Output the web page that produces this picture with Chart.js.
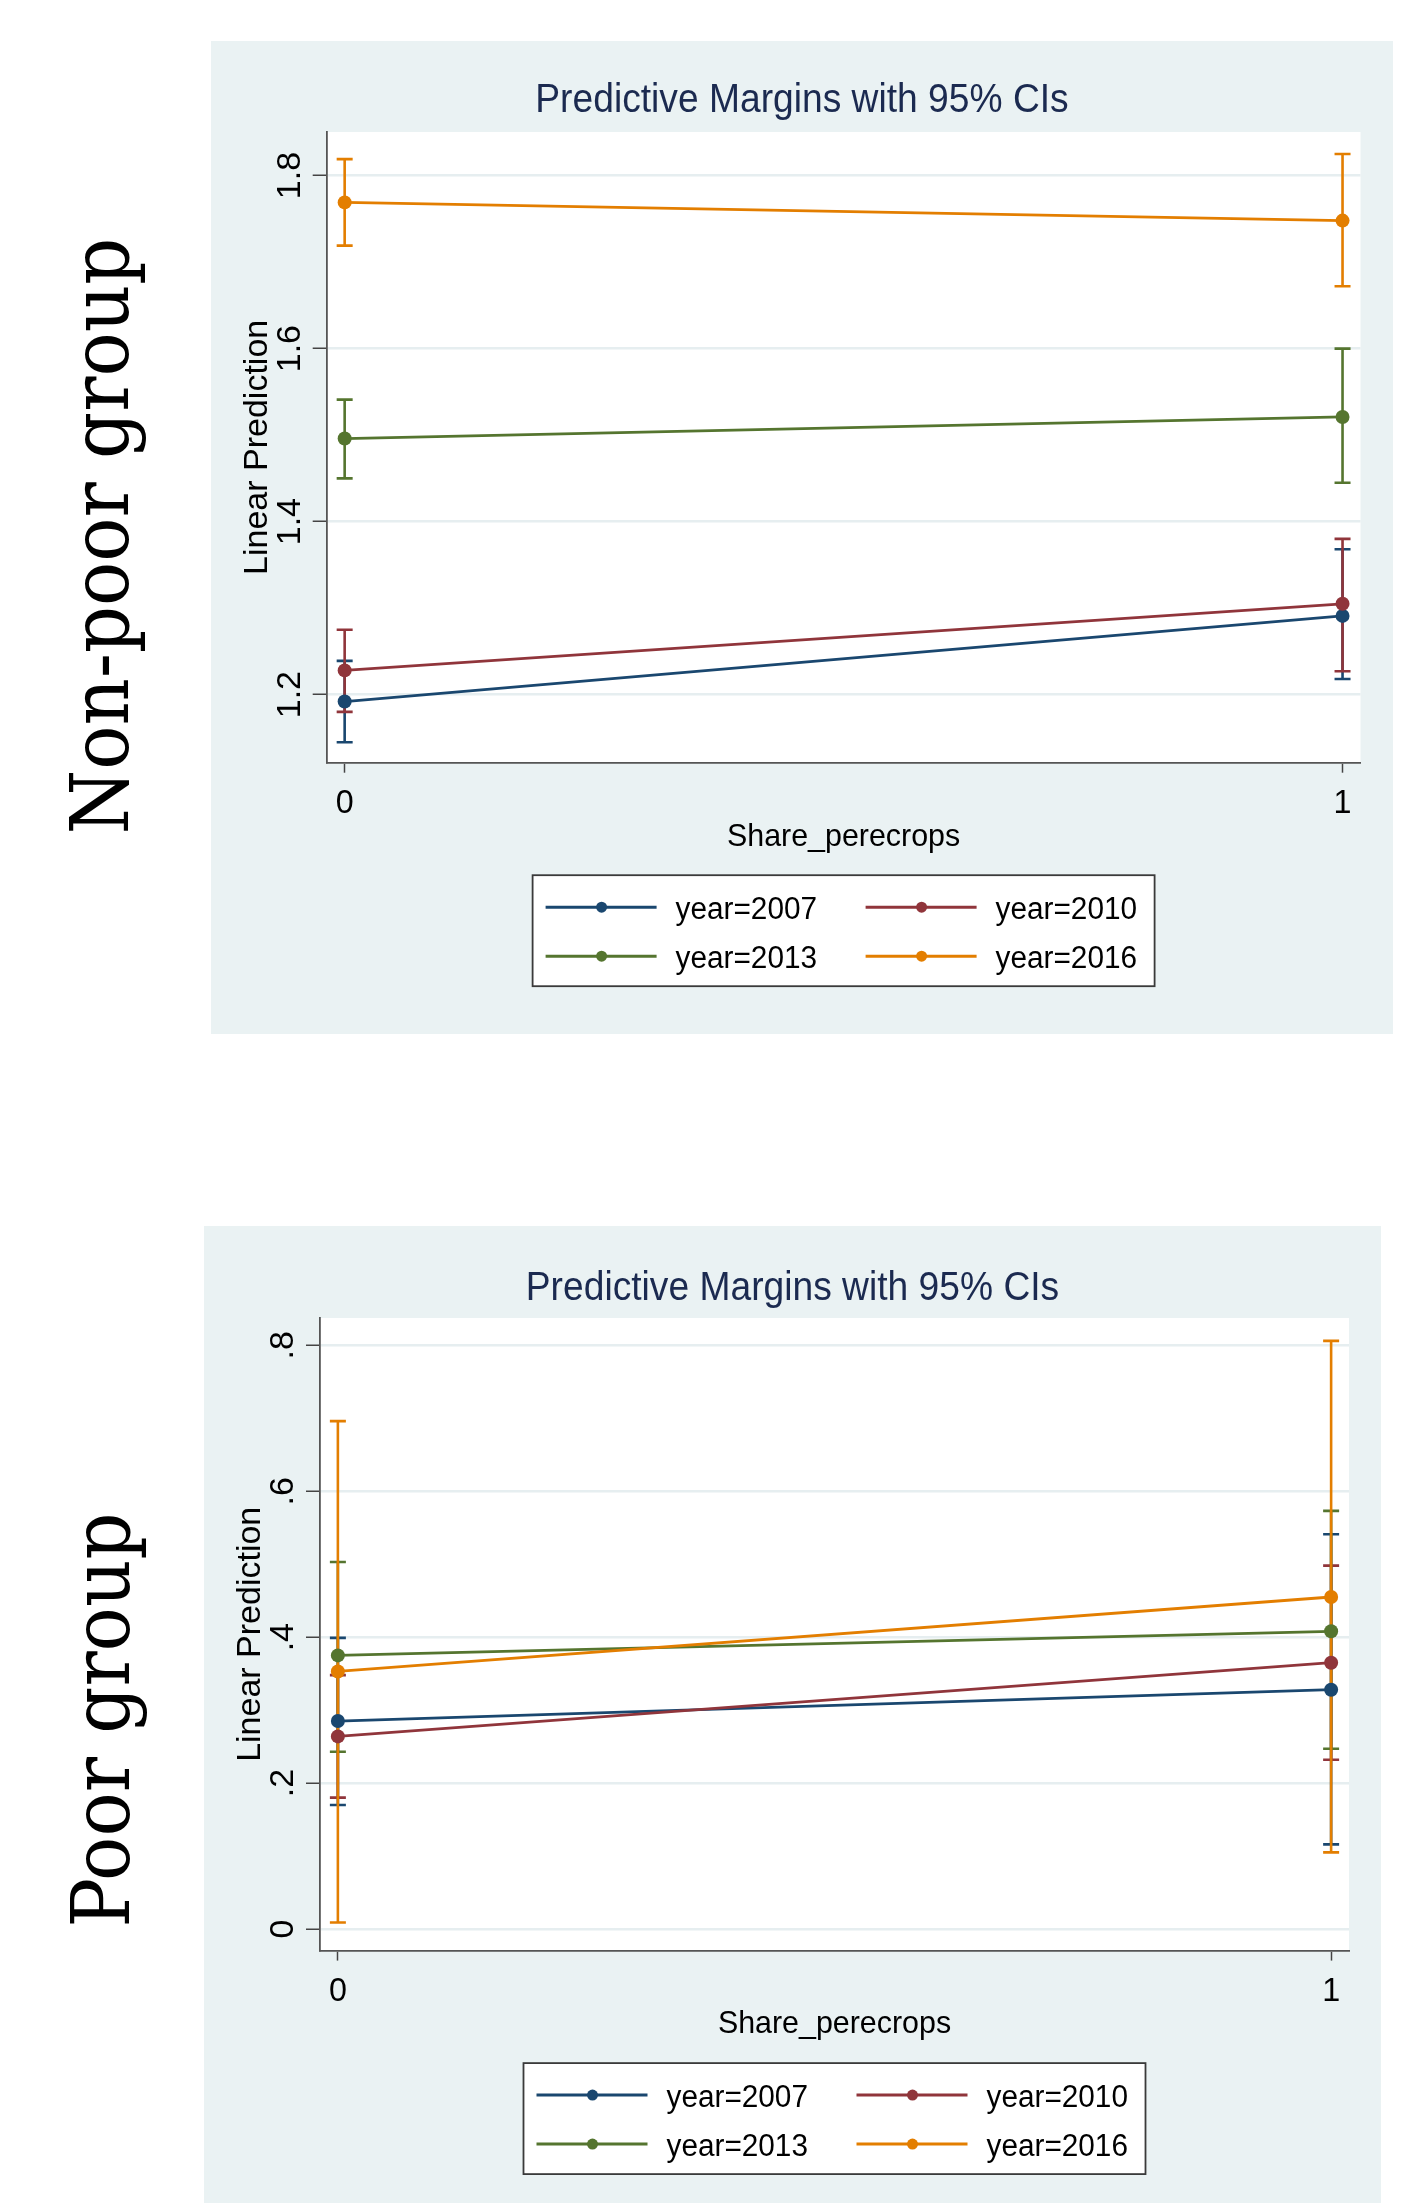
<!DOCTYPE html>
<html>
<head>
<meta charset="utf-8">
<script src="https://cdn.jsdelivr.net/npm/chart.js@4.4.1/dist/chart.umd.min.js"></script>
<style>
  html, body { margin: 0; padding: 0; background: #fff; }
  body { width: 1406px; height: 2203px; position: relative; overflow: hidden; }
  canvas { position: absolute; }
  #nonPoor { left: 211px; top: 41px; }
  #poor { left: 204px; top: 1226px; }
  .group {
    position: absolute;
    font-family: 'DejaVu Serif', serif;
    font-size: 80px;
    line-height: 1;
    white-space: nowrap;
    color: #000;
    transform: translate(-50%, -50%) rotate(-90deg) scaleX(0.92);
  }
</style>
</head>
<body>
<div class="group" style="left:101px; top:536px">Non-poor group</div>
<div class="group" style="left:102px; top:1720px">Poor group</div>
<canvas id="nonPoor" width="1182" height="993"></canvas>
<canvas id="poor" width="1177" height="977"></canvas>
<script>
// x categories and legend
const shareX = [0, 1]
const xTickLabels = ['0', '1']
const years = ['year=2007', 'year=2010', 'year=2013', 'year=2016']
const colors = ['#1A476F', '#90353B', '#55752F', '#E37E00']

// Non-poor group: margins and 95% CI
const nonPoor2007 = [1.192, 1.291]
const nonPoor2007Lo = [1.145, 1.218]
const nonPoor2007Hi = [1.239, 1.368]
const nonPoor2010 = [1.228, 1.305]
const nonPoor2010Lo = [1.180, 1.227]
const nonPoor2010Hi = [1.275, 1.380]
const nonPoor2013 = [1.496, 1.521]
const nonPoor2013Lo = [1.450, 1.445]
const nonPoor2013Hi = [1.541, 1.600]
const nonPoor2016 = [1.769, 1.748]
const nonPoor2016Lo = [1.719, 1.672]
const nonPoor2016Hi = [1.819, 1.825]
const nonPoorTicks = [1.2, 1.4, 1.6, 1.8]
const nonPoorTickLabels = ['1.2', '1.4', '1.6', '1.8']

// Poor group: margins and 95% CI
const poor2007 = [0.285, 0.328]
const poor2007Lo = [0.170, 0.116]
const poor2007Hi = [0.399, 0.541]
const poor2010 = [0.264, 0.365]
const poor2010Lo = [0.180, 0.232]
const poor2010Hi = [0.348, 0.498]
const poor2013 = [0.375, 0.408]
const poor2013Lo = [0.243, 0.247]
const poor2013Hi = [0.503, 0.573]
const poor2016 = [0.353, 0.455]
const poor2016Lo = [0.009, 0.105]
const poor2016Hi = [0.696, 0.806]
const poorTicks = [0, 0.2, 0.4, 0.6, 0.8]
const poorTickLabels = ['0', '.2', '.4', '.6', '.8']

const PANEL_BG = '#EAF2F3'
const SANS = '"Liberation Sans", Arial, sans-serif'

function drawText(ctx, str, x, y, size, color, opts = {}) {
  ctx.save()
  ctx.translate(x, y)
  if (opts.rotate) ctx.rotate(-Math.PI / 2)
  ctx.scale(opts.sx || 1, 1)
  ctx.font = size + 'px ' + SANS
  ctx.fillStyle = color
  ctx.textAlign = opts.align || 'center'
  ctx.textBaseline = 'middle'
  ctx.fillText(str, 0, 0)
  ctx.restore()
}

function marginsPlugin(opt) {
  return {
    id: 'margins',
    beforeDraw(chart) {
      const { ctx, chartArea: a, width, height } = chart
      ctx.save()
      ctx.fillStyle = PANEL_BG
      ctx.fillRect(0, 0, width, height)
      ctx.fillStyle = '#fff'
      ctx.fillRect(a.left, a.top, a.right - a.left, a.bottom - a.top)
      ctx.restore()
    },
    // confidence intervals under the lines
    beforeDatasetsDraw(chart) {
      const { ctx, scales: { x, y } } = chart
      ctx.save()
      ctx.lineWidth = 2.6
      chart.data.datasets.forEach(ds => {
        ctx.strokeStyle = ds.borderColor
        shareX.forEach((v, i) => {
          const px = x.getPixelForValue(v)
          const top = y.getPixelForValue(ds.hi[i])
          const bot = y.getPixelForValue(ds.lo[i])
          ctx.beginPath()
          ctx.moveTo(px, top); ctx.lineTo(px, bot)
          ctx.moveTo(px - 8, top); ctx.lineTo(px + 8, top)
          ctx.moveTo(px - 8, bot); ctx.lineTo(px + 8, bot)
          ctx.stroke()
        })
      })
      ctx.restore()
    },
    afterDraw(chart) {
      const { ctx, chartArea: a, scales: { x, y }, width } = chart
      const cx = (a.left + a.right) / 2
      const cy = (a.top + a.bottom) / 2

      drawText(ctx, 'Predictive Margins with 95% CIs', width / 2, opt.titleY, 40, '#1B2A50', { sx: 0.93 })

      opt.ticks.forEach((v, i) => {
        drawText(ctx, opt.tickLabels[i], 80, y.getPixelForValue(v), 34, '#000', { rotate: true })
      })
      drawText(ctx, 'Linear Prediction', 47, cy, 34, '#000', { rotate: true })

      shareX.forEach((v, i) => {
        drawText(ctx, xTickLabels[i], x.getPixelForValue(v), a.bottom + 41, 34, '#000', { sx: 0.95 })
      })
      drawText(ctx, 'Share_perecrops', cx, a.bottom + 74, 32, '#000', { sx: 0.95 })

      // legend box
      const L = cx - 311, T = a.bottom + 112.5
      ctx.save()
      ctx.fillStyle = '#fff'
      ctx.fillRect(L, T, 622, 111)
      ctx.strokeStyle = '#3a3a3a'
      ctx.lineWidth = 1.8
      ctx.strokeRect(L, T, 622, 111)
      chart.data.datasets.forEach((ds, s) => {
        const col = s % 2, row = Math.floor(s / 2)
        const ox = L + (col ? 333 : 13)
        const oy = T + (row ? 81 : 32)
        ctx.strokeStyle = ds.borderColor
        ctx.lineWidth = 3
        ctx.beginPath()
        ctx.moveTo(ox, oy); ctx.lineTo(ox + 111, oy)
        ctx.stroke()
        ctx.fillStyle = ds.borderColor
        ctx.beginPath()
        ctx.arc(ox + 56, oy, 5.5, 0, Math.PI * 2)
        ctx.fill()
        drawText(ctx, ds.label, ox + 130, oy + 3, 31, '#000', { align: 'left', sx: 0.96 })
      })
      ctx.restore()
    }
  }
}

function buildChart(id, opt) {
  const datasets = years.map((label, s) => ({
    label,
    data: shareX.map((v, i) => ({ x: v, y: opt.means[s][i] })),
    lo: opt.lo[s],
    hi: opt.hi[s],
    borderColor: colors[s],
    backgroundColor: colors[s],
    borderWidth: 2.8,
    pointRadius: 7,
    pointHoverRadius: 7,
    pointBorderWidth: 0,
    tension: 0,
    order: 3 - s
  }))

  return new Chart(document.getElementById(id), {
    type: 'line',
    data: { datasets },
    options: {
      responsive: false,
      animation: false,
      devicePixelRatio: 1,
      events: [],
      layout: { autoPadding: false, padding: opt.padding },
      plugins: { legend: { display: false }, title: { display: false }, tooltip: { enabled: false } },
      scales: {
        x: {
          type: 'linear',
          min: -0.018,
          max: 1.018,
          afterBuildTicks: s => { s.ticks = shareX.map(v => ({ value: v })) },
          afterFit: s => { s.height = 10 },
          ticks: { display: false },
          grid: { drawOnChartArea: false, drawTicks: true, tickLength: 10, tickColor: '#444', tickWidth: 1.5 },
          border: { color: '#555', width: 1.8 }
        },
        y: {
          type: 'linear',
          min: opt.yMin,
          max: opt.yMax,
          afterBuildTicks: s => { s.ticks = opt.ticks.map(v => ({ value: v })) },
          afterFit: s => { s.width = 10 },
          ticks: { display: false },
          grid: { color: '#E6EEF0', lineWidth: 2.5, drawTicks: true, tickLength: 14, tickColor: '#444', tickWidth: 1.5 },
          border: { color: '#555', width: 1.8 }
        }
      }
    },
    plugins: [marginsPlugin(opt)]
  })
}

buildChart('nonPoor', {
  means: [nonPoor2007, nonPoor2010, nonPoor2013, nonPoor2016],
  lo: [nonPoor2007Lo, nonPoor2010Lo, nonPoor2013Lo, nonPoor2016Lo],
  hi: [nonPoor2007Hi, nonPoor2010Hi, nonPoor2013Hi, nonPoor2016Hi],
  ticks: nonPoorTicks,
  tickLabels: nonPoorTickLabels,
  yMin: 1.1213,
  yMax: 1.8504,
  titleY: 60,
  padding: { left: 105.7, right: 32.5, top: 91, bottom: 261.3 }
})

buildChart('poor', {
  means: [poor2007, poor2010, poor2013, poor2016],
  lo: [poor2007Lo, poor2010Lo, poor2013Lo, poor2016Lo],
  hi: [poor2007Hi, poor2010Hi, poor2013Hi, poor2016Hi],
  ticks: poorTicks,
  tickLabels: poorTickLabels,
  yMin: -0.0296,
  yMax: 0.8374,
  titleY: 63,
  padding: { left: 106, right: 32, top: 92, bottom: 242.4 }
})
</script>
</body>
</html>
